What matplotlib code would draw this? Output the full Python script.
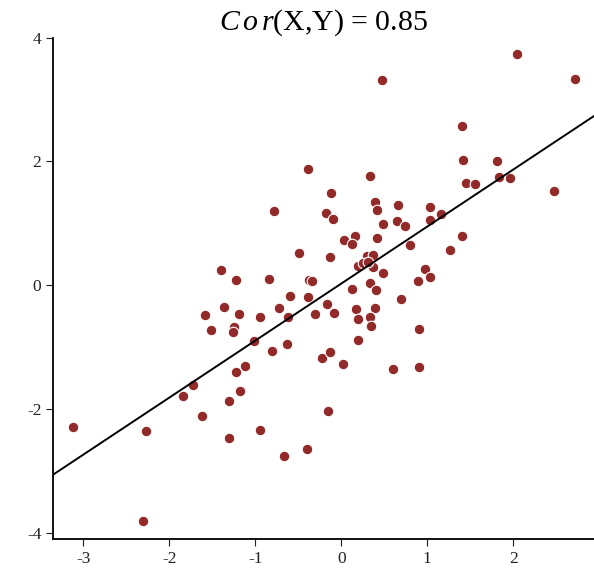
import matplotlib
matplotlib.use("Agg")
import matplotlib.pyplot as plt
import numpy as np

plt.rcParams["font.family"] = ["Liberation Serif", "DejaVu Serif"]
plt.rcParams["mathtext.fontset"] = "custom"
plt.rcParams["mathtext.rm"] = "Liberation Serif"
plt.rcParams["mathtext.it"] = "Liberation Serif:italic"
plt.rcParams["axes.unicode_minus"] = False

# points
x = [-1.40, -1.22, -1.37, -1.58, -1.19, -1.51, -1.25, -1.26, -1.12, -1.22,
     -1.73, -1.84, -1.18, -1.31, -1.62, -3.12, -2.27, -1.31, -2.31, -0.39,
     0.33, 0.47, -0.12, -0.78, 0.39, 0.66, 0.42, -0.18, -0.10, 0.65,
     0.49, 0.74, 0.16, 0.03, 0.13, 0.42, 0.80, -0.49, -0.13, 0.30,
     0.37, 0.19, 0.37, 0.25, 0.31, 0.48, -0.84, -0.38, -0.34, 0.89,
     -0.60, -0.39, 0.12, 0.34, 0.40, 0.70, -0.95, -0.73, -0.62, -0.17,
     -0.31, -0.09, 0.17, 0.39, 0.20, 0.33, 0.35, 0.91, -1.02, -0.81,
     -0.63, 0.19, -0.22, -0.13, 0.02, 0.60, 0.90, -0.16, -0.95, -0.40,
     -0.67, 2.05, 2.72, 1.40, 1.42, 1.81, 1.45, 1.55, 1.84, 1.96,
     2.48, 1.03, 1.03, 1.16, 1.40, 1.26, 0.97, 1.03]
y = [0.25, 0.09, -0.35, -0.48, -0.46, -0.72, -0.67, -0.75, -1.30, -1.40,
     -1.61, -1.79, -1.71, -1.87, -2.11, -2.29, -2.35, -2.46, -3.81, 1.88,
     1.77, 3.32, 1.49, 1.20, 1.35, 1.30, 1.22, 1.17, 1.07, 1.04,
     0.99, 0.96, 0.80, 0.73, 0.67, 0.76, 0.65, 0.52, 0.46, 0.47,
     0.49, 0.31, 0.30, 0.36, 0.38, 0.20, 0.10, 0.09, 0.07, 0.07,
     -0.17, -0.19, -0.06, 0.04, -0.08, -0.22, -0.51, -0.37, -0.51, -0.30,
     -0.46, -0.45, -0.38, -0.37, -0.54, -0.51, -0.66, -0.71, -0.90, -1.06,
     -0.95, -0.88, -1.17, -1.08, -1.27, -1.35, -1.32, -2.03, -2.34, -2.64,
     -2.76, 3.74, 3.33, 2.57, 2.02, 2.01, 1.65, 1.64, 1.75, 1.73,
     1.52, 1.26, 1.05, 1.15, 0.80, 0.57, 0.26, 0.13]

slope = 0.921
intercept = 0.027
title = r"$C\,o\,r$(X,Y) = 0.85"

fig = plt.figure(figsize=(5.94, 5.69), dpi=100)
ax = fig.add_axes([53.3 / 594, 30 / 569, 1 - 53.3 / 594, (539 - 37.7) / 569])

xmin, xmax = -3.35, 2.94
ax.scatter(x, y, s=58, color="#922a2a", edgecolors="white", linewidths=0.8, zorder=2)
xs = np.array([xmin, xmax])
ax.plot(xs, slope * xs + intercept, color="black", linewidth=1.4, zorder=3)

ax.set_xlim(xmin, xmax)
ax.set_ylim(-4.10, 4.0)
ax.set_xticks([-3, -2, -1, 0, 1, 2])
ax.set_yticks([-4, -2, 0, 2, 4])
for side in ["top", "right"]:
    ax.spines[side].set_visible(False)
for side in ["left", "bottom"]:
    ax.spines[side].set_linewidth(1.3)
ax.tick_params(labelsize=12.5, length=5, width=0.8, colors="#222222")
ax.set_title(title, fontsize=21.5, pad=3)

fig.savefig("out.png", dpi=100)
